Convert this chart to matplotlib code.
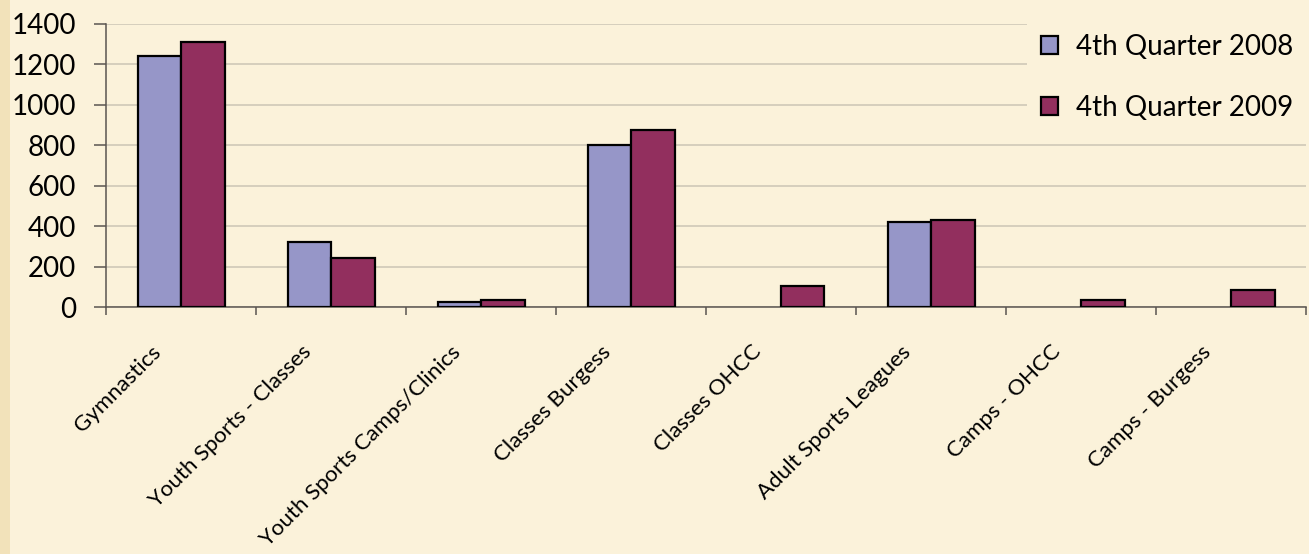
import matplotlib
matplotlib.use("Agg")
import matplotlib.pyplot as plt
from matplotlib.patches import Rectangle
from matplotlib.transforms import ScaledTranslation
import numpy as np

categories = ["Gymnastics", "Youth Sports - Classes", "Youth Sports Camps/Clinics",
              "Classes Burgess", "Classes OHCC", "Adult Sports Leagues",
              "Camps - OHCC", "Camps - Burgess"]
q4_2008 = [1240, 322, 27, 800, 0, 420, 0, 0]
q4_2009 = [1310, 244, 37, 876, 105, 432, 36, 84]
series_names = ["4th Quarter 2008", "4th Quarter 2009"]
yticks = [0, 200, 400, 600, 800, 1000, 1200, 1400]

plt.rcParams['font.family'] = ['Lato', 'DejaVu Sans']

W, H = 1309, 554
fig = plt.figure(figsize=(W / 100, H / 100), dpi=100)
fig.patch.set_facecolor('#F2E2BA')
bg = '#FBF2DA'
fig.patches.append(Rectangle((10 / W, 0), 1, 1, transform=fig.transFigure,
                             facecolor=bg, edgecolor='none', zorder=-10))

ax = fig.add_axes([106 / W, (H - 307) / H, 1200 / W, 283 / H])
ax.set_facecolor('none')

x = np.arange(len(categories))
bw = 0.29
b1 = ax.bar(x - bw / 2, q4_2008, bw, color='#9696C8', edgecolor='black', linewidth=1.6,
            label=series_names[0], zorder=3)
b2 = ax.bar(x + bw / 2, q4_2009, bw, color='#922F5E', edgecolor='black', linewidth=1.6,
            label=series_names[1], zorder=3)
for cont in (b1, b2):
    for rect in cont.patches:
        if rect.get_height() == 0:
            rect.set_visible(False)

ax.set_xlim(-0.5, len(categories) - 0.5)
ax.set_ylim(0, 1400)
ax.set_yticks(yticks)
ax.set_yticklabels([str(v) for v in yticks], fontsize=20)
ax.yaxis.grid(True, color='#CFC8B8', linewidth=1.2, zorder=0)
ax.set_axisbelow(True)

for s in ['top', 'right']:
    ax.spines[s].set_visible(False)
for s in ['left', 'bottom']:
    ax.spines[s].set_color('#5A5550')
    ax.spines[s].set_linewidth(1.1)

ax.tick_params(axis='y', direction='out', length=8.6, width=1.1, color='#5A5550',
               pad=13, labelcolor='black')

ax.set_xticks(x)
ax.set_xticklabels(categories, rotation=45, ha='right', va='top', fontsize=16)
ax.set_xticks(np.arange(len(categories) + 1) - 0.5, minor=True)
ax.tick_params(axis='x', which='major', length=0, pad=25)
ax.tick_params(axis='x', which='minor', direction='out', length=6, width=1.1,
               color='#5A5550')
off = ScaledTranslation(-0.16, 0, fig.dpi_scale_trans)
for lab in ax.get_xticklabels():
    lab.set_transform(lab.get_transform() + off)

leg = fig.legend(loc='upper left', bbox_to_anchor=(1027 / W, 1 - 20 / H),
                 fontsize=20, frameon=True, facecolor=bg, edgecolor='none',
                 framealpha=1, fancybox=False, handlelength=0.62, handleheight=0.62,
                 handletextpad=0.65, labelspacing=1.25, borderpad=0.5,
                 borderaxespad=0)
leg.get_frame().set_linewidth(0)
leg.set_zorder(5)

fig.savefig('out.png', dpi=100, facecolor=fig.get_facecolor())
